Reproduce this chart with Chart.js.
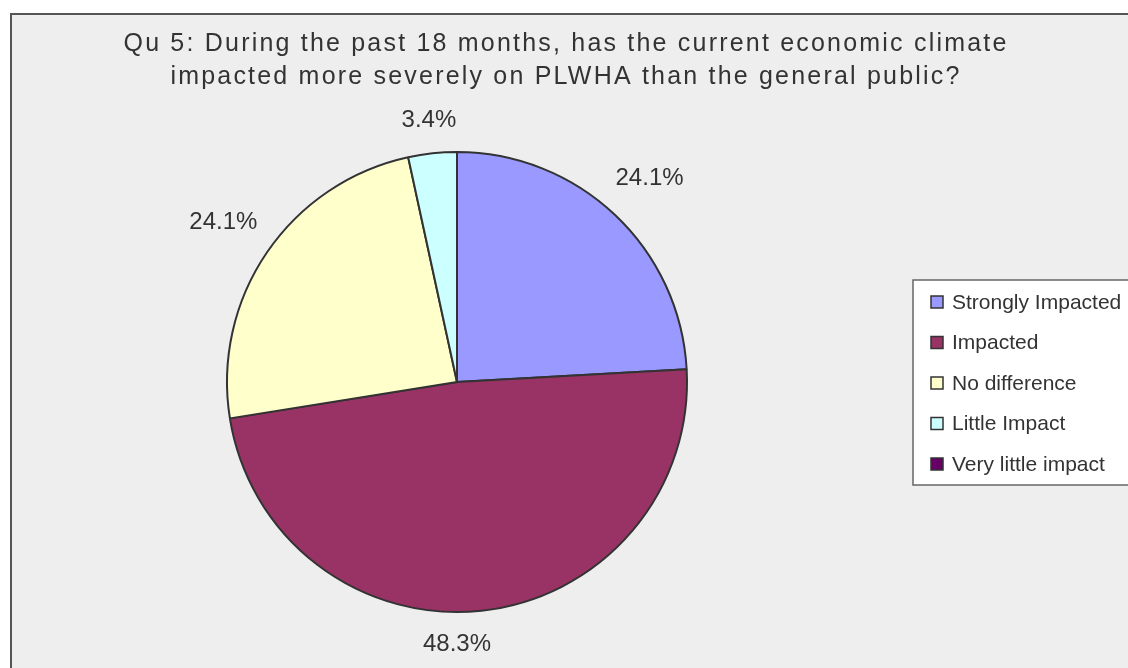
<!DOCTYPE html>
<html>
<head>
<meta charset="utf-8">
<script src="https://cdn.jsdelivr.net/npm/chart.js@4.4.1/dist/chart.umd.min.js"></script>
<style>
  html, body { margin: 0; padding: 0; background: #ffffff; }
  #wrap { width: 1128px; height: 668px; position: relative; }
</style>
</head>
<body>
<div id="wrap"><canvas id="piechart" width="1128" height="668"></canvas></div>
<script>
const titleLines = [
  "Qu 5: During the past 18 months, has the current economic climate",
  "impacted more severely on PLWHA than the general public?"
];
const categories = ["Strongly Impacted", "Impacted", "No difference", "Little Impact", "Very little impact"];
const percents = [24.1, 48.3, 24.1, 3.4, 0];
const sliceColors = ["#9999FF", "#993366", "#FFFFCC", "#CCFFFF", "#660066"];

const FONT = "'Liberation Sans', Arial, sans-serif";
const TEXT = "#333333";

// background frame + title
const framePlugin = {
  id: "frame",
  beforeDraw(chart) {
    const ctx = chart.ctx;
    ctx.save();
    ctx.fillStyle = "#EEEEEE";
    ctx.fillRect(10, 14, 1130, 660);
    ctx.strokeStyle = "#555555";
    ctx.lineWidth = 2;
    ctx.beginPath();
    ctx.moveTo(11, 680);
    ctx.lineTo(11, 14);
    ctx.lineTo(1140, 14);
    ctx.stroke();

    ctx.fillStyle = TEXT;
    ctx.font = "25px " + FONT;
    ctx.letterSpacing = "2.2px";
    ctx.textAlign = "center";
    ctx.textBaseline = "alphabetic";
    ctx.fillText(titleLines[0], 566, 51);
    ctx.fillText(titleLines[1], 566, 84);
    ctx.restore();
  }
};

// percentage labels outside the slices
const labelPlugin = {
  id: "outLabels",
  afterDatasetsDraw(chart) {
    const ctx = chart.ctx;
    const meta = chart.getDatasetMeta(0);
    ctx.save();
    ctx.font = "24px " + FONT;
    ctx.fillStyle = TEXT;
    ctx.textAlign = "center";
    ctx.textBaseline = "middle";
    meta.data.forEach((arc, i) => {
      if (!percents[i]) return;
      const p = arc.getProps(["x", "y", "startAngle", "endAngle", "outerRadius"], true);
      const mid = (p.startAngle + p.endAngle) / 2;
      const txt = percents[i].toFixed(1) + "%";
      const halfW = ctx.measureText(txt).width / 2;
      const halfH = 12;
      const c = Math.cos(mid), s = Math.sin(mid);
      const d = p.outerRadius + 18 + halfW * Math.abs(c) + halfH * Math.abs(s);
      // a label hanging under the pie is centred on it, as in the original
      const x = s > 0.9 ? p.x : p.x + c * d;
      ctx.fillText(txt, x, p.y + s * d);
    });
    ctx.restore();
  }
};

// boxed legend on the right
const legendPlugin = {
  id: "boxLegend",
  afterDraw(chart) {
    const ctx = chart.ctx;
    ctx.save();
    ctx.fillStyle = "#FFFFFF";
    ctx.fillRect(913, 280, 230, 205);
    ctx.strokeStyle = "#666666";
    ctx.lineWidth = 1.5;
    ctx.strokeRect(913, 280, 230, 205);
    ctx.font = "21px " + FONT;
    ctx.textBaseline = "middle";
    categories.forEach((name, i) => {
      const y = 302 + i * 40.5;
      ctx.fillStyle = sliceColors[i];
      ctx.fillRect(931, y - 6, 12, 12);
      ctx.strokeStyle = "#333333";
      ctx.lineWidth = 1.5;
      ctx.strokeRect(931, y - 6, 12, 12);
      ctx.fillStyle = TEXT;
      ctx.fillText(name, 952, y + 1);
    });
    ctx.restore();
  }
};

new Chart(document.getElementById("piechart"), {
  type: "pie",
  data: {
    labels: categories,
    datasets: [{
      data: percents,
      backgroundColor: sliceColors,
      borderColor: "#333333",
      borderWidth: 2
    }]
  },
  options: {
    responsive: false,
    animation: false,
    layout: { padding: { top: 151, bottom: 55, left: 226, right: 440 } },
    plugins: {
      legend: { display: false },
      title: { display: false },
      tooltip: { enabled: false }
    }
  },
  plugins: [framePlugin, labelPlugin, legendPlugin]
});
</script>
</body>
</html>
